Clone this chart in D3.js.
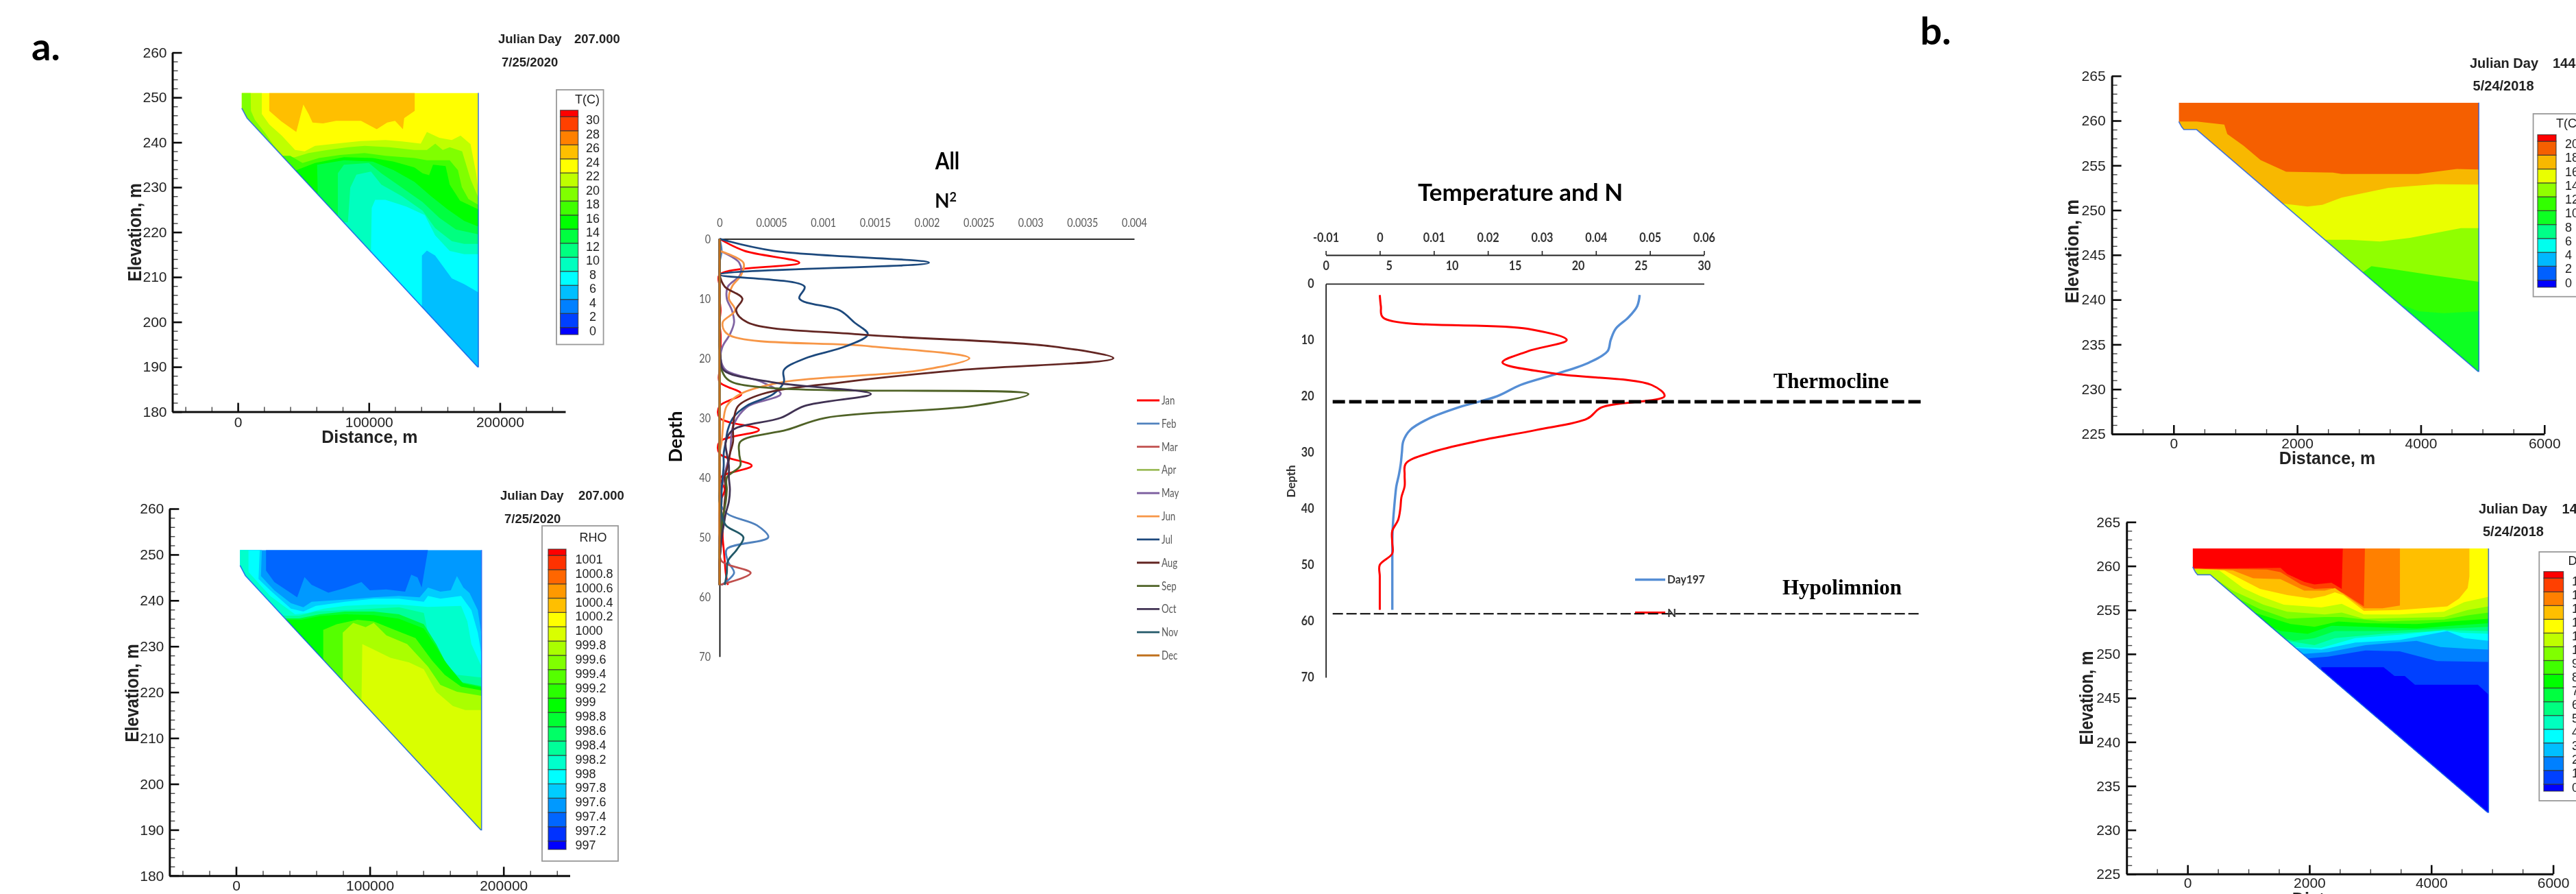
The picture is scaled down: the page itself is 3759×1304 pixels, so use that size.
<!DOCTYPE html>
<html>
<head>
<meta charset="utf-8">
<script src="https://d3js.org/d3.v7.min.js"></script>
<style>
html, body { margin: 0; padding: 0; background: #fff; overflow: hidden; }
svg { display: block; }
</style>
</head>
<body>
<script>
// ---- colour bands read from the legends ----
var rainbow17 = ["#0000ff","#0040ff","#0080ff","#00bfff","#00ffff","#00ffbf","#00ff80","#00ff40","#00ff00","#40ff00","#80ff00","#bfff00","#ffff00","#ffbf00","#ff8000","#ff4000","#ff0000"];
var rhoColors = ["#0000ff","#0033ff","#0066ff","#0099ff","#00ccff","#00ffff","#00ffcc","#00ff99","#00ff66","#00ff33","#00ff00","#2aff00","#55ff00","#80ff00","#aaff00","#d9ff00","#ffff00","#ffbf00","#ff9900","#ff6600","#ff3300","#ff0000"];
var tempBColors = ["#0000ff","#0060ff","#00b8ff","#00ffee","#00ff88","#10ff22","#33ff00","#90ff00","#eaff00","#f8b800","#f55f00","#ff0000"];

// ---- legend levels ----
var tempALevels = ["0","2","4","6","8","10","12","14","16","18","20","22","24","26","28","30"];
var rhoLevels = ["997","997.2","997.4","997.6","997.8","998","998.2","998.4","998.6","998.8","999","999.2","999.4","999.6","999.8","1000","1000.2","1000.4","1000.6","1000.8","1001"];
var tempBLevels = ["0","2","4","6","8","10","12","14","16","18","20"];
var doLevels = ["0","1","2","3","4","5","6","7","8","9","10","11","12","13","14","15"];

// ---- cross section outlines (distance, elevation) ----
var basinA = [[3,251],[3,247.6],[7,245.4],[183,190],[183.6,190],[183.6,251]];
var basinB = [[84,262],[84,259.9],[130,259.3],[166,259],[373,259],[4925,232],[4940,232],[4940,262]];

// ---- panel a, temperature: band index, then its upper contour (km, m) ----
var tempABands = [11,10,9,8,7,6,5,4,3];
var tempALines = [
  [[18.3,251],[18.3,246.3],[24,244],[33.5,241.5],[43.7,238.3],[51,238],[58.9,239.2],[81,239.9],[93.7,240.3],[112.7,240.5],[125.3,240.2],[139.6,239.7],[144.3,242.3],[153.8,241],[163.3,240.5],[170,241.5],[177.6,239.6],[182,233],[184,228]],
  [[9.8,251],[10,247],[13,245],[21,242],[27,239.5],[36,236.5],[43.7,236.7],[54,237.6],[68.4,238.3],[84.2,238.9],[96.8,239.2],[115.8,238.9],[134.8,238.3],[144.3,238.3],[150.7,239.7],[156.4,238.3],[161.7,238.9],[171.2,238],[177.6,231.8],[184,227.4]],
  [[40,237],[49.4,235.4],[62,236.5],[78,237.2],[96.8,237.6],[112.7,237],[134.8,236.5],[144.3,236],[161.7,236],[168,233.8],[171,230],[176,227.4],[184,226]],
  [[44.6,233.8],[58.9,235.4],[81,236.7],[103,236.5],[119,235.7],[134.8,234.4],[141,233.1],[146,232.7],[149,235],[158.6,234.7],[161.7,230.6],[169.6,227],[184,225]],
  [[61,228.5],[60.5,235],[81,236],[103,235.7],[119,233.8],[134.8,231.2],[147.5,228],[160,225.1],[172.8,222.5],[184,221.2]],
  [[76.3,223.7],[76.3,233.1],[81,235],[100,235.4],[109.5,233.1],[125.3,229.9],[141,226.7],[153.8,223.2],[166.5,220.6],[184,219.5]],
  [[84,222.2],[85.8,229.9],[90.5,232.8],[101.6,233.5],[109.5,230.6],[125.3,228],[141,224.8],[150.6,220.9],[163.3,218],[172.8,217.4],[184,217.4]],
  [[101.6,215.8],[102.2,225.4],[104.8,227.2],[112.7,227.2],[128.5,225.7],[142.7,223.8],[150.6,219.3],[161.7,215.8],[172.8,215.1],[184,215.1]],
  [[140.5,203.4],[140.5,214.8],[144.3,215.9],[150.6,214.8],[163.3,209.7],[172.8,208.4],[182.3,206.8],[184,206.5]]
];
var tempAPatchBands = [13];
var tempAPatches = [
  [[24,251],[24,247],[33,244.7],[44.6,242.3],[50,248.4],[54,246.3],[57,244.4],[65,244.2],[75,244.8],[94,244.8],[106,242.9],[114,244.4],[120,244.8],[126,242.9],[127,245.4],[135,247],[135,251]]
];

// ---- panel a, density ----
var rhoBands = [4,5,6,7,9,10,12,14,15];
var rhoLines = [
  [[19.3,251],[18.6,245.3],[28.6,242.2],[41,239.4],[50.3,238.5],[56.5,239.7],[72,240],[90.7,240.4],[103,240.7],[121.8,241],[137.3,240.7],[143.5,242.8],[152.8,241.9],[160.6,242.2],[165.2,245.3],[170,242.8],[174.6,241.6],[180.8,237.9],[183.6,232.4]],
  [[17.7,251],[16.8,244.7],[25.5,242.2],[41,238.2],[50.3,237.6],[59.6,238.8],[81.4,239.7],[103,240.4],[121.8,240.4],[140.4,239.7],[143.5,241],[152.8,240.4],[168.3,241],[176,237.9],[180.8,233],[183.6,228.1]],
  [[9.3,251],[9.3,246.2],[25.5,241],[44.1,237],[53.4,237.3],[65.8,238.2],[81.4,238.8],[103,239.1],[121.8,239.1],[143.5,238.6],[168.3,238.8],[173,235.4],[176,230.5],[183.6,225.6]],
  [[47.2,236.7],[59.6,237.6],[81.4,237.9],[103,238.2],[121.8,238.5],[140.4,237.3],[143.5,233],[149.7,229.3],[156,226.5],[165.2,223.8],[183.6,223.2]],
  [[47.2,236.1],[62.7,237],[81.4,237.6],[103,237.6],[121.8,237],[140.4,234.8],[149.7,230.5],[156,226.9],[168.3,222.2],[183.6,221.3]],
  [[48.8,235.8],[62.7,236.6],[81.4,237],[103,236.8],[121.8,236],[140.4,233.9],[149.7,229.9],[157.5,226.2],[169.9,221.9],[183.6,221]],
  [[65.2,226.9],[65.2,233.6],[75.2,234.8],[90.7,235.8],[103,235.4],[118.6,233.6],[134.2,231.8],[146.6,226.9],[156,223.8],[168.3,221.2],[183.6,220.4]],
  [[79.8,222.6],[79.8,233],[87.6,235.1],[96.9,234.2],[103,235.1],[112.4,232.4],[128,230.5],[143.5,225.6],[152.8,221.6],[165.2,220.1],[183.6,219.2]],
  [[93.8,218.3],[94.4,230.5],[103,229.3],[115.5,227.5],[129.5,226.5],[140.4,225],[149.7,220.1],[162.1,217],[171.5,216.1],[183.6,216.1]]
];
var rhoPatchBands = [2];
var rhoPatches = [
  [[22.4,251],[22.4,246.5],[28.6,244],[37.9,242.2],[45.7,240.7],[51.2,245.1],[56.5,243.4],[69,241.7],[81.4,242.7],[93.8,244],[100,242.2],[112.4,242.4],[126.4,241.9],[131,245.6],[135.7,245],[138.8,242.8],[143.5,251]]
];

// ---- panel b, temperature ----
var tempBBands = [9,8,7,6,5];
var tempBLines = [
  [[166,259.9],[373,259.9],[821,259.55],[869,258.5],[1132,257.2],[1408,255.6],[1822,254.3],[2580,254.2],[2719,254.05],[3960,254.05],[4582,254.6],[4940,254.55]],
  [[1753,250.75],[2167,250.4],[2408,250.6],[2719,251.4],[3478,252.5],[4237,252.9],[4940,252.85]],
  [[2408,246.7],[2857,246.7],[3340,246.5],[3823,246.9],[4651,248],[4940,248]],
  [[3050,243],[3202,243.75],[3616,243.35],[4237,242.7],[4940,242]],
  [[3754,239.3],[3961,238.7],[4375,238.5],[4940,238.7]]
];

// ---- panel b, dissolved oxygen ----
var doBands = [15,14,13,12,11,10,9,8,7,6,5,4,3,2,1,0];
var doLines = [
  [[184,259.7],[1525,259.8],[1637,259.1],[1916,258.2],[2084,257.9],[2363,258.1],[2531,257.4],[2548,262]],
  [[184,259.7],[1302,259.6],[1525,259.3],[1860,257.9],[2084,257.4],[2363,257.5],[2559,256.9],[2894,255.4],[2911,262]],
  [[184,259.7],[743,259.5],[1078,258.6],[1525,258.5],[1916,257.2],[2252,257.2],[2419,257.5],[2587,256.7],[2894,255.2],[3201,255.2],[3486,255.5],[3486,262]],
  [[184,259.6],[603,259.5],[967,258.2],[1190,257.4],[1637,256.7],[2028,256.3],[2252,256.6],[2419,257],[2559,256.7],[2894,254.9],[3481,255],[4263,255.4],[4458,256.3],[4598,257.5],[4626,258.8],[4626,262]],
  [[173,259.6],[520,259.5],[911,257.5],[1190,256.6],[1581,255.6],[2196,255.3],[2531,255.7],[2894,254.5],[3481,254.5],[4207,254.8],[4542,255.9],[4940,256.5]],
  [[408,258.8],[743,257.2],[1246,255.6],[1637,254.8],[2252,254.5],[2531,254.7],[2894,254],[4207,254.2],[4598,255],[4940,255.4]],
  [[352,258.7],[743,256.6],[1190,255.1],[1637,254],[2252,254.2],[2531,254.2],[3201,253.7],[4207,253.9],[4598,254.4],[4940,254.7]],
  [[352,258.3],[967,255],[1413,254],[1693,253.4],[2084,253.1],[2475,253.7],[2922,253.5],[3760,253.4],[4319,253.7],[4940,254]],
  [[464,257.2],[1078,254],[1525,252.6],[1972,252.3],[2363,253.2],[2922,253.1],[3760,252.9],[4319,253.2],[4940,253.5]],
  [[967,254],[1413,252.1],[1749,251.5],[2084,251.8],[2419,252.6],[3201,252.6],[4319,252.9],[4940,253.1]],
  [[1302,252.9],[1637,251.5],[2084,251],[2419,251.8],[3201,252.3],[4319,252.7],[4940,252.6]],
  [[1693,250.8],[2196,250.7],[2754,251.8],[3481,252.2],[4207,252.7],[4486,252.4],[4940,252.3]],
  [[1749,250.7],[2196,250.5],[2754,251.3],[3481,251.6],[4263,252.6],[4542,251.8],[4940,251.5]],
  [[1860,250],[2307,250.2],[2922,251],[3760,251.5],[4151,250.8],[4598,250.6],[4940,250.5]],
  [[1972,249.5],[2307,249.7],[2922,250.4],[3481,250.3],[4095,249.2],[4940,249.1]],
  [[2196,247.8],[2196,248.5],[3218,248.5],[3397,247.5],[3565,247.5],[3732,246.5],[4766,246.5],[4940,245.4]]
];
var doPatchBands = [1];
var doPatches = [[[4414,236.4],[4766,238.4],[4940,238.4],[4940,234.5],[4570,234.5],[4414,235.6]]];

// ---- N2 profiles, one value every 2 m of depth ----
var depths = d3.range(0, 60, 2);
var months = ["Jan","Feb","Mar","Apr","May","Jun","Jul","Aug","Sep","Oct","Nov","Dec"];
var monthColors = ["#ff0000","#4f81bd","#c0504d","#9bbb59","#8064a2","#f79646","#1f497d","#632523","#4f6228","#403152","#215968","#c0701f"];
var jan = [0,.00024,.00077,0,0,0,.00001,0,.00001,.00001,.00001,0,0,.00021,0,0,.00038,0,0,.00031,.00001,.00005,.00001,.00002,.00003,.00003,.00004,.00005,.00006,.00008];
var feb = [0,.00002,0,0,0,0,0,0,0,0,0,0,0,0,0,0,0,0,0,0,0,0,0,.00007,.00036,.00047,.00007,.00008,.00014,.00002];
var mar = [0,0,0,0,0,0,0,0,0,0,0,0,0,0,0,0,0,0,0,0,0,0,0,0,0,0,0,.00002,.0003,0];
var apr = [0,0,0,0,0,0,0,0,0,0,0,0,0,0,0,0,0,0,0,0,0,0,0,0,0,0,0,0,0,0];
var may = [null,0,.00019,.0002,.00008,.00007,.00012,.00014,.0001,.00003,.00001,.00006,.00041,.00059,.00028,.00017,.00012,.00011,.0001,.00007,.00004,.00002,.00001,0,0,0,0,0,0,0];
var jun = [null,0,.00023,.00021,.00012,.00009,.00015,.00003,.00008,.00145,.00241,.00195,.00061,.0002,.00007,.00004,.00003,.00002,0,0,0,0,0,0,0,0,0,0,0,0];
var jul = [0,.00052,.00202,0,.00082,.00077,.00116,.0013,.00143,.00122,.00083,.00062,.00062,.00052,.00026,.00013,.00008,.00006,.00004,.00004,.00003,.00002,.00002,.00001,.00001,0,0,0,0,0];
var aug = [0,0,0,0,.00005,.00022,.00016,.00027,.00134,.0032,.0038,.00231,.0012,.00041,.00018,.00014,.00013,.00013,.0001,.00008,.00005,.00006,.00005,.00004,.00003,.00002,.00001,0,0,0];
var sep = [0,0,0,0,0,0,0,0,0,0,.00001,.00002,.00012,.00298,.00245,.00102,.00065,.0002,.00019,.0002,.00007,.00007,.00006,.00004,.00002,.00001,0,0,0,0];
var oct = [0,0,0,0,0,0,0,0,0,0,.00001,.00004,.0005,.00146,.00082,.00059,.00013,.00006,.00007,.00009,.00009,.0001,.00009,.00006,.00004,.00002,.00001,0,0,0];
var nov = [0,0,0,0,0,0,0,0,0,0,0,0,0,0,0,0,0,0,0,0,0,0,0,.00002,.00006,.00023,.00017,.00008,.00007,.00005];
var dec = [0,0,0,0,0,0,0,0,0,0,0,0,0,0,0,0,0,0,0,0,0,0,0,0,0,0,0,0,0,0];
var monthSeries = [jan,feb,mar,apr,may,jun,jul,aug,sep,oct,nov,dec];
var n2Ticks = [0,.0005,.001,.0015,.002,.0025,.003,.0035,.004];
var depthTicks = [0,10,20,30,40,50,60,70];

// ---- temperature and N profile, day 197 ----
var tnDepths = d3.range(2, 60, 2);
var day197 = [24.9,24.7,24,23,22.6,22.35,20.9,18.35,15.45,13.6,10.5,8.15,6.7,6.15,6.04,5.95,5.8,5.6,5.5,5.42,5.35,5.3,5.28,5.28,5.28,5.28,5.28,5.28,5.28];
var nProfile = [0,.0002,.0006,.0273,.0346,.0274,.0227,.0325,.0503,.0527,.041,.0384,.029,.018,.0095,.0048,.0046,.0046,.004,.0038,.0034,.0023,.0023,.0023,0,0,0,0,0];
var nTicks = [-.01,0,.01,.02,.03,.04,.05,.06];
var tempTicks = [0,5,10,15,20,25,30];
var thermoclineDepth = 21;
var hypolimnionDepth = 58.7;

var svg = d3.select("body").append("svg")
    .attr("width", 3759)
    .attr("height", 1304)
    .style("background", "#fff");

// the reference is a soft, upscaled image
svg.append("defs").append("filter")
    .attr("id", "soft")
    .attr("filterUnits", "userSpaceOnUse")
    .attr("x", 0).attr("y", 0).attr("width", 3759).attr("height", 1304)
  .append("feGaussianBlur").attr("stdDeviation", 0.6);

var root = svg.append("g").attr("filter", "url(#soft)");

// squeeze a text along its length, the reference image is narrowed
function squeeze(sel, k) {
  sel.each(function() {
    this.setAttribute("textLength", this.getComputedTextLength() * k);
    this.setAttribute("lengthAdjust", "spacingAndGlyphs");
  });
}

function addText(x, y, str, size, opts) {
  opts = opts || {};
  var t = root.append("text")
      .attr("x", x).attr("y", y)
      .attr("text-anchor", opts.anchor || "start")
      .attr("font-family", opts.font || "'Liberation Sans', Arial, sans-serif")
      .attr("font-size", size)
      .attr("font-weight", opts.weight || "normal")
      .attr("fill", opts.fill || "#222")
      .text(str);
  if (opts.rotate) {
    t.attr("transform", "rotate(-90 " + x + " " + y + ")");
  }
  if (opts.squeeze) squeeze(t, opts.squeeze);
  return t;
}

var sectionCount = 0;

// one Tecplot cross section: axes, filled contours, legend and day text
function drawSection(c) {
  sectionCount += 1;
  var clipId = "basin" + sectionCount;
  var x = d3.scaleLinear().domain(c.xDomain).range([c.left, c.right]);
  var y = d3.scaleLinear().domain(c.yDomain).range([c.bottom, c.top]);
  var line = d3.line().x(function(d) { return x(d[0]); }).y(function(d) { return y(d[1]); });
  var xFar = c.xDomain[1], xNear = c.xDomain[0], yLow = c.yDomain[0];

  root.append("clipPath").attr("id", clipId)
    .append("path").attr("d", line(c.basin) + "Z");

  var fills = root.append("g").attr("clip-path", "url(#" + clipId + ")");
  fills.append("path").attr("d", line(c.basin) + "Z").attr("fill", c.colors[c.baseBand]);

  // patches sit on the base colour, each contour then covers all that lies under it
  (c.patches || []).forEach(function(p, i) {
    fills.append("path").attr("d", line(p) + "Z").attr("fill", c.colors[c.patchBands[i]]);
  });
  c.lines.forEach(function(l, i) {
    var first = l[0], last = l[l.length - 1];
    var ring = l.concat([[xFar, last[1]], [xFar, yLow], [xNear, yLow], [xNear, first[1]]]);
    fills.append("path").attr("d", line(ring) + "Z").attr("fill", c.colors[c.bands[i]]);
  });

  // thin blue edge along the bed and the dam face
  root.append("path")
      .attr("d", line(c.basin.slice(1)))
      .attr("fill", "none").attr("stroke", "#1a5cf0").attr("stroke-width", 1.6).attr("stroke-opacity", 0.8);

  // minor ticks
  root.append("g").attr("transform", "translate(" + c.left + ",0)")
      .call(d3.axisLeft(y).tickValues(c.yMinor).tickFormat("").tickSizeInner(-8).tickSizeOuter(0))
      .call(function(g) { g.select(".domain").remove(); g.selectAll("line").attr("stroke", "#444").attr("stroke-width", 1.4); });
  root.append("g").attr("transform", "translate(0," + c.bottom + ")")
      .call(d3.axisBottom(x).tickValues(c.xMinor).tickFormat("").tickSizeInner(-7).tickSizeOuter(0))
      .call(function(g) { g.select(".domain").remove(); g.selectAll("line").attr("stroke", "#444").attr("stroke-width", 1.4); });

  // major ticks and labels
  var yAxis = root.append("g").attr("transform", "translate(" + c.left + ",0)")
      .call(d3.axisLeft(y).tickValues(c.yTicks).tickSizeInner(-14).tickSizeOuter(0).tickPadding(c.yPad));
  var xAxis = root.append("g").attr("transform", "translate(0," + c.bottom + ")")
      .call(d3.axisBottom(x).tickValues(c.xTicks).tickFormat(c.xFormat).tickSizeInner(-13).tickSizeOuter(0).tickPadding(c.xPad));
  [yAxis, xAxis].forEach(function(g) {
    g.select(".domain").attr("stroke", "#111").attr("stroke-width", 3);
    g.selectAll("line").attr("stroke", "#111").attr("stroke-width", 2.6);
    g.selectAll("text")
      .attr("font-family", "'Liberation Sans', Arial, sans-serif")
      .attr("font-size", 21).attr("fill", "#222");
  });

  // axis titles
  addText(c.elevX, c.elevY, "Elevation, m", 28, {weight: "bold", anchor: "middle", rotate: true, fill: "#222", squeeze: c.elevSqueeze});
  addText(c.distX, c.distY, "Distance, m", 25, {weight: "bold", anchor: "middle", fill: "#222"});

  // day and date
  addText(c.dayX, c.dayY, "Julian Day", c.daySize, {weight: "bold"});
  addText(c.valX, c.dayY, c.dayValue, c.daySize, {weight: "bold"});
  addText(c.dateX, c.dateY, c.date, c.daySize, {weight: "bold"});

  // legend
  var L = c.legend;
  root.append("rect").attr("x", L.x).attr("y", L.y).attr("width", L.w).attr("height", L.h)
      .attr("fill", "#fff").attr("stroke", "#999").attr("stroke-width", 1.8);
  var pos = d3.scaleLinear().domain([0, c.levels.length - 1]).range([L.first, L.last]);
  c.colors.forEach(function(col, i) {
    var top = i === c.levels.length ? L.swatchTop : pos(i) - L.offset;
    var bot = i === 0 ? L.swatchBottom : pos(i - 1) - L.offset;
    root.append("rect").attr("x", L.swatchX).attr("y", top)
        .attr("width", L.swatchW).attr("height", bot - top)
        .attr("fill", col).attr("stroke", "#333").attr("stroke-opacity", 0.75).attr("stroke-width", 1.3);
  });
  c.levels.forEach(function(lv, i) {
    addText(L.labelX, pos(i) + 7, lv, L.size, {anchor: L.anchor, fill: "#222"});
  });
  addText(L.titleX, L.titleY, c.legendTitle, L.size, {anchor: L.titleAnchor, fill: "#222"});
}

var kmFormat = function(d) { return d3.format("d")(d * 1000); };
var plainFormat = d3.format("d");

drawSection({
  left: 251.5, right: 825, top: 76.6, bottom: 600.6,
  xDomain: [-50, 250], yDomain: [180, 260], xTicks: [0, 100, 200], xFormat: kmFormat,
  xMinor: d3.range(-40, 260, 20), yTicks: d3.range(180, 270, 10), yMinor: d3.range(180, 262, 2),
  yPad: 8, xPad: 7,
  basin: basinA, colors: rainbow17, baseBand: 12,
  bands: tempABands, lines: tempALines, patches: tempAPatches, patchBands: tempAPatchBands,
  elevX: 206, elevY: 339, elevSqueeze: .87, distX: 539.4, distY: 646,
  dayX: 727, valX: 838, dayY: 63, dateX: 732, dateY: 97, daySize: 18.5, dayValue: "207.000", date: "7/25/2020",
  levels: tempALevels, legendTitle: "T(C)",
  legend: {x: 812, y: 131, w: 68.6, h: 371.5, swatchX: 817.6, swatchW: 26, swatchTop: 160.8, swatchBottom: 488,
           first: 481.5, last: 174, offset: 3.8, labelX: 865, anchor: "middle", size: 18, titleX: 875, titleY: 151, titleAnchor: "end"}
});

drawSection({
  left: 247.3, right: 831.5, top: 742, bottom: 1277.3,
  xDomain: [-49.8, 249.6], yDomain: [180, 260], xTicks: [0, 100, 200], xFormat: kmFormat,
  xMinor: d3.range(-40, 250, 20), yTicks: d3.range(180, 270, 10), yMinor: d3.range(180, 262, 2),
  yPad: 8, xPad: 7,
  basin: basinA, colors: rhoColors, baseBand: 3,
  bands: rhoBands, lines: rhoLines, patches: rhoPatches, patchBands: rhoPatchBands,
  elevX: 202, elevY: 1011, elevSqueeze: .87, distX: 539.4, distY: 1323,
  dayX: 730, valX: 844, dayY: 728.5, dateX: 736, dateY: 763, daySize: 18.5, dayValue: "207.000", date: "7/25/2020",
  levels: rhoLevels, legendTitle: "RHO",
  legend: {x: 791, y: 767, w: 111, h: 489, swatchX: 800, swatchW: 26, swatchTop: 801, swatchBottom: 1239,
           first: 1231.7, last: 815, offset: 5, labelX: 839.4, anchor: "start", size: 18, titleX: 865.5, titleY: 790, titleAnchor: "middle"}
});

drawSection({
  left: 3081.6, right: 3712.8, top: 110.7, bottom: 633,
  xDomain: [-1000, 6000], yDomain: [225, 265], xTicks: [0, 2000, 4000, 6000], xFormat: plainFormat,
  xMinor: d3.range(-500, 6000, 500), yTicks: d3.range(225, 270, 5), yMinor: d3.range(225, 266, 1),
  yPad: 9, xPad: 6,
  basin: basinB, colors: tempBColors, baseBand: 10,
  bands: tempBBands, lines: tempBLines,
  elevX: 3033, elevY: 366.6, elevSqueeze: .92, distX: 3396, distY: 677,
  dayX: 3604, valX: 3725, dayY: 99, dateX: 3608.6, dateY: 132, daySize: 20, dayValue: "144.000", date: "5/24/2018",
  levels: tempBLevels, legendTitle: "T(C)",
  legend: {x: 3696.6, y: 166, w: 90, h: 266.7, swatchX: 3703, swatchW: 27, swatchTop: 196.5, swatchBottom: 419,
           first: 411.6, last: 209, offset: 3, labelX: 3743, anchor: "start", size: 18, titleX: 3730, titleY: 186, titleAnchor: "start"}
});

drawSection({
  left: 3103.2, right: 3725.6, top: 761.4, bottom: 1274.8,
  xDomain: [-1000, 6000], yDomain: [225, 265], xTicks: [0, 2000, 4000, 6000], xFormat: plainFormat,
  xMinor: d3.range(-500, 6000, 500), yTicks: d3.range(225, 270, 5), yMinor: d3.range(225, 266, 1),
  yPad: 9, xPad: 5,
  basin: basinB, colors: rainbow17, baseBand: 16,
  bands: doBands, lines: doLines, patches: doPatches, patchBands: doPatchBands,
  elevX: 3054, elevY: 1018, elevSqueeze: .83, distX: 3415, distY: 1320,
  dayX: 3617, valX: 3738.6, dayY: 749, dateX: 3623, dateY: 782, daySize: 20, dayValue: "144.000", date: "5/24/2018",
  levels: doLevels, legendTitle: "DO",
  legend: {x: 3705.3, y: 805, w: 90, h: 363, swatchX: 3712, swatchW: 28.6, swatchTop: 833.7, swatchBottom: 1154,
           first: 1147.5, last: 846.9, offset: 3.7, labelX: 3753, anchor: "start", size: 18, titleX: 3747.5, titleY: 824, titleAnchor: "start"}
});

// panel letters
addText(46, 88, "a.", 56, {font: "Lato, sans-serif", weight: "bold", fill: "#000"});
addText(2802, 65, "b.", 56, {font: "Lato, sans-serif", weight: "bold", fill: "#000"});

// ---- N2 by month ----
var lato = "Lato, sans-serif";
var xN2 = d3.scaleLinear().domain([0, .004]).range([1050, 1655]);
var yN2 = d3.scaleLinear().domain([0, 70]).range([348.4, 957.7]);

var n2Top = root.append("g").attr("transform", "translate(0,348.4)")
    .call(d3.axisTop(xN2).tickValues(n2Ticks).tickFormat(function(d) { return String(d); }).tickSize(0).tickPadding(17));
var n2Left = root.append("g").attr("transform", "translate(1050,0)")
    .call(d3.axisLeft(yN2).tickValues(depthTicks).tickSize(0).tickPadding(13));
[n2Top, n2Left].forEach(function(g) {
  g.select(".domain").attr("stroke", "#111").attr("stroke-width", 1.8);
  g.selectAll("text").attr("font-family", lato).attr("font-size", 18).attr("fill", "#595959").call(squeeze, .8);
});

var n2Line = d3.line()
    .defined(function(d) { return d !== null; })
    .x(function(d) { return xN2(d); })
    .y(function(d, i) { return yN2(depths[i]); })
    .curve(d3.curveCatmullRom.alpha(0.5));

root.append("g").selectAll("path")
    .data(monthSeries)
    .enter().append("path")
      .attr("d", n2Line)
      .attr("fill", "none")
      .attr("stroke", function(d, i) { return monthColors[i]; })
      .attr("stroke-width", 2.8);

var monthY = d3.scalePoint().domain(months).range([584, 956]);
months.forEach(function(m, i) {
  root.append("line").attr("x1", 1659).attr("x2", 1692)
      .attr("y1", monthY(m)).attr("y2", monthY(m))
      .attr("stroke", monthColors[i]).attr("stroke-width", 2.8);
  addText(1695, monthY(m) + 6, m, 17, {font: lato, fill: "#595959", squeeze: .78});
});

addText(1382.5, 247, "All", 35, {font: lato, weight: "bold", anchor: "middle", fill: "#000", squeeze: .85});
var n2Title = addText(1380, 303, "N", 28, {font: lato, weight: "bold", anchor: "middle", fill: "#111"});
n2Title.append("tspan").attr("dy", -9).attr("font-size", 18).text("2");
addText(995, 637, "Depth", 27, {font: lato, weight: "bold", anchor: "middle", rotate: true, fill: "#111"});

// ---- temperature and N ----
var xTemp = d3.scaleLinear().domain([0, 30]).range([1934.6, 2486.5]);
var xN = d3.scaleLinear().domain([-.01, .06]).range([1934.6, 2486.5]);
var yTN = d3.scaleLinear().domain([0, 70]).range([413.9, 987.9]);

var nAxis = root.append("g").attr("transform", "translate(0,372)")
    .call(d3.axisTop(xN).tickValues(nTicks).tickFormat(function(d) { return String(d); }).tickSizeInner(6).tickSizeOuter(0).tickPadding(13));
var tAxis = root.append("g").attr("transform", "translate(0,413.9)")
    .call(d3.axisTop(xTemp).tickValues(tempTicks).tickSize(0).tickPadding(20));
var dAxis = root.append("g").attr("transform", "translate(1934.6,0)")
    .call(d3.axisLeft(yTN).tickValues(depthTicks).tickSize(0).tickPadding(17));
[nAxis, tAxis, dAxis].forEach(function(g) {
  g.select(".domain").attr("stroke", "#222").attr("stroke-width", 1.8);
  g.selectAll("line").attr("stroke", "#222").attr("stroke-width", 1.6);
  g.selectAll("text").attr("font-family", lato).attr("font-weight", "bold").attr("font-size", 18).attr("fill", "#333").call(squeeze, .9);
});

var tempLine = d3.line()
    .x(function(d) { return xTemp(d); })
    .y(function(d, i) { return yTN(tnDepths[i]); })
    .curve(d3.curveCatmullRom.alpha(0.5));
var nLine = d3.line()
    .x(function(d) { return xN(d); })
    .y(function(d, i) { return yTN(tnDepths[i]); })
    .curve(d3.curveCatmullRom.alpha(0.5));

root.append("path").attr("d", tempLine(day197)).attr("fill", "none").attr("stroke", "#558ed5").attr("stroke-width", 3.4);
root.append("path").attr("d", nLine(nProfile)).attr("fill", "none").attr("stroke", "#ff0000").attr("stroke-width", 3);

// thermocline and hypolimnion limits run well past the plotted range
root.append("line").attr("x1", 1944.7).attr("x2", 2804.7)
    .attr("y1", yTN(thermoclineDepth)).attr("y2", yTN(thermoclineDepth))
    .attr("stroke", "#000").attr("stroke-width", 5).attr("stroke-dasharray", "18,6");
root.append("line").attr("x1", 2386).attr("x2", 2430).attr("y1", 893.5).attr("y2", 893.5)
    .attr("stroke", "#ff0000").attr("stroke-width", 3);
root.append("line").attr("x1", 1944.7).attr("x2", 2804.7)
    .attr("y1", yTN(hypolimnionDepth)).attr("y2", yTN(hypolimnionDepth))
    .attr("stroke", "#000").attr("stroke-width", 2).attr("stroke-dasharray", "15,5");
root.append("line").attr("x1", 2386).attr("x2", 2430).attr("y1", 845.5).attr("y2", 845.5)
    .attr("stroke", "#558ed5").attr("stroke-width", 3.4);

addText(2433, 851, "Day197", 17, {font: lato, weight: "bold", fill: "#333", squeeze: .92});
addText(2433, 900, "N", 17, {font: lato, weight: "bold", fill: "#333"});
addText(2218.6, 293, "Temperature and N", 35, {font: lato, weight: "bold", anchor: "middle", fill: "#000"});
addText(1890, 702, "Depth", 17, {font: lato, weight: "bold", anchor: "middle", rotate: true, fill: "#333"});
addText(2672, 566, "Thermocline", 31, {font: "'Liberation Serif', serif", weight: "bold", anchor: "middle", fill: "#000"});
addText(2688, 867, "Hypolimnion", 31, {font: "'Liberation Serif', serif", weight: "bold", anchor: "middle", fill: "#000"});
</script>
</body>
</html>
